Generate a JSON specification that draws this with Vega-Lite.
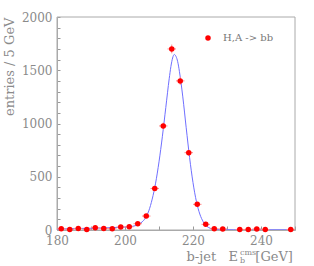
{
  "$schema": "https://vega.github.io/schema/vega-lite/v6.json",
  "width": 238,
  "height": 213,
  "autosize": {"type": "none"},
  "padding": {"left": 57, "top": 17, "right": 19, "bottom": 36},
  "background": "white",
  "resolve": {"axis": {"x": "independent", "y": "independent"}},
  "config": {
    "view": {"stroke": null},
    "axis": {
      "domainColor": "#aaaaaa",
      "tickColor": "#999999",
      "tickWidth": 1,
      "labelColor": "#8a8a8a",
      "titleColor": "#8a8a8a",
      "labelFont": "DejaVu Serif",
      "titleFont": "DejaVu Serif",
      "labelFontSize": 12,
      "titleFontSize": 13,
      "titleFontWeight": "normal",
      "grid": false,
      "ticks": true,
      "labelFlush": false,
      "labelOverlap": false,
      "format": "d"
    }
  },
  "datasets": {
    "pts": [
      {"x": 181.25, "n": 12, "ex": 1.25, "ey": 3.5, "s": "H,A -> bb"},
      {"x": 183.75, "n": 5, "ex": 1.25, "ey": 2.2, "s": "H,A -> bb"},
      {"x": 186.25, "n": 15, "ex": 1.25, "ey": 3.9, "s": "H,A -> bb"},
      {"x": 188.75, "n": 5, "ex": 1.25, "ey": 2.2, "s": "H,A -> bb"},
      {"x": 191.25, "n": 22, "ex": 1.25, "ey": 4.7, "s": "H,A -> bb"},
      {"x": 193.75, "n": 15, "ex": 1.25, "ey": 3.9, "s": "H,A -> bb"},
      {"x": 196.25, "n": 12, "ex": 1.25, "ey": 3.5, "s": "H,A -> bb"},
      {"x": 198.75, "n": 28, "ex": 1.25, "ey": 5.3, "s": "H,A -> bb"},
      {"x": 201.25, "n": 30, "ex": 1.25, "ey": 5.5, "s": "H,A -> bb"},
      {"x": 203.75, "n": 59, "ex": 1.25, "ey": 7.7, "s": "H,A -> bb"},
      {"x": 206.25, "n": 131, "ex": 1.25, "ey": 11.4, "s": "H,A -> bb"},
      {"x": 208.75, "n": 390, "ex": 1.25, "ey": 19.7, "s": "H,A -> bb"},
      {"x": 211.25, "n": 977, "ex": 1.25, "ey": 31.3, "s": "H,A -> bb"},
      {"x": 213.75, "n": 1700, "ex": 1.25, "ey": 41.2, "s": "H,A -> bb"},
      {"x": 216.25, "n": 1400, "ex": 1.25, "ey": 37.4, "s": "H,A -> bb"},
      {"x": 218.75, "n": 726, "ex": 1.25, "ey": 26.9, "s": "H,A -> bb"},
      {"x": 221.25, "n": 241, "ex": 1.25, "ey": 15.5, "s": "H,A -> bb"},
      {"x": 223.75, "n": 53, "ex": 1.25, "ey": 7.3, "s": "H,A -> bb"},
      {"x": 226.25, "n": 12, "ex": 1.25, "ey": 3.5, "s": "H,A -> bb"},
      {"x": 228.75, "n": 10, "ex": 1.25, "ey": 3.2, "s": "H,A -> bb"},
      {"x": 233.75, "n": 5, "ex": 1.25, "ey": 2.2, "s": "H,A -> bb"},
      {"x": 236.25, "n": 5, "ex": 1.25, "ey": 2.2, "s": "H,A -> bb"},
      {"x": 238.75, "n": 10, "ex": 1.25, "ey": 3.2, "s": "H,A -> bb"},
      {"x": 241.25, "n": 5, "ex": 1.25, "ey": 2.2, "s": "H,A -> bb"},
      {"x": 248.75, "n": 5, "ex": 1.25, "ey": 2.2, "s": "H,A -> bb"}
    ],
    "fit": [
      {"x": 180, "c": 10}, {"x": 184, "c": 12}, {"x": 188, "c": 15}, {"x": 192, "c": 18},
      {"x": 196, "c": 22}, {"x": 200, "c": 28}, {"x": 202, "c": 33}, {"x": 203, "c": 40},
      {"x": 204, "c": 53}, {"x": 205, "c": 75}, {"x": 206, "c": 112}, {"x": 207, "c": 180},
      {"x": 208, "c": 290}, {"x": 209, "c": 440}, {"x": 210, "c": 640}, {"x": 211, "c": 880},
      {"x": 212, "c": 1150}, {"x": 213, "c": 1420}, {"x": 213.5, "c": 1535}, {"x": 214, "c": 1615},
      {"x": 214.5, "c": 1648}, {"x": 215, "c": 1630}, {"x": 215.5, "c": 1580}, {"x": 216, "c": 1490},
      {"x": 217, "c": 1250}, {"x": 218, "c": 960}, {"x": 219, "c": 680}, {"x": 220, "c": 445},
      {"x": 221, "c": 268}, {"x": 222, "c": 150}, {"x": 223, "c": 78}, {"x": 224, "c": 37},
      {"x": 225, "c": 17}, {"x": 226, "c": 8}, {"x": 227, "c": 4}, {"x": 228, "c": 3},
      {"x": 232, "c": 2}, {"x": 250, "c": 2}
    ]
  },
  "layer": [
    {
      "data": {"name": "pts"},
      "mark": {"type": "point", "filled": true, "size": 30, "opacity": 0},
      "encoding": {
        "x": {
          "field": "x", "type": "quantitative",
          "scale": {"domain": [180, 250], "nice": false, "zero": false},
          "axis": {
            "orient": "bottom", "title": null,
            "values": [180, 190, 200, 210, 220, 230, 240, 250],
            "labelExpr": "datum.value % 20 === 0 ? datum.label : ''",
            "tickSize": -4,
            "labelPadding": 9
          }
        },
        "y": {
          "field": "n", "type": "quantitative",
          "scale": {"domain": [0, 2000], "nice": false},
          "axis": {
            "orient": "left", "title": "entries / 5 GeV", "titleAnchor": "end", "titlePadding": 5,
            "values": [0,100,200,300,400,500,600,700,800,900,1000,1100,1200,1300,1400,1500,1600,1700,1800,1900,2000],
            "labelExpr": "datum.value % 500 === 0 ? datum.label : ''",
            "tickSize": -3,
            "labelPadding": 8
          }
        }
      }
    },
    {
      "data": {"values": [{}]},
      "mark": {"type": "rect", "fill": null, "fillOpacity": 0, "stroke": "#aaaaaa", "strokeWidth": 1},
      "encoding": {
        "x": {"datum": 180, "axis": null},
        "x2": {"datum": 250},
        "y": {"datum": 0, "axis": null},
        "y2": {"datum": 2000}
      }
    },
    {
      "data": {"name": "fit"},
      "mark": {"type": "line", "color": "#6f6fff", "strokeWidth": 1, "interpolate": "monotone", "clip": true},
      "encoding": {
        "x": {"field": "x", "type": "quantitative", "axis": null},
        "y": {"field": "c", "type": "quantitative", "axis": null}
      }
    },
    {
      "data": {"name": "pts"},
      "mark": {"type": "errorbar", "color": "#ff8a8a", "thickness": 1},
      "encoding": {
        "x": {"field": "x", "type": "quantitative", "axis": null},
        "xError": {"field": "ex"},
        "y": {"field": "n", "type": "quantitative", "axis": null}
      }
    },
    {
      "data": {"name": "pts"},
      "mark": {"type": "errorbar", "color": "#ff8a8a", "thickness": 1},
      "encoding": {
        "y": {"field": "n", "type": "quantitative", "axis": null},
        "yError": {"field": "ey"},
        "x": {"field": "x", "type": "quantitative", "axis": null}
      }
    },
    {
      "data": {"name": "pts"},
      "mark": {"type": "point", "filled": true, "size": 30, "opacity": 1},
      "encoding": {
        "x": {"field": "x", "type": "quantitative", "axis": null},
        "y": {"field": "n", "type": "quantitative", "axis": null},
        "color": {
          "field": "s", "type": "nominal",
          "scale": {"domain": ["H,A -> bb"], "range": ["#ff0000"]},
          "legend": {
            "orient": "none", "legendX": 146, "legendY": 16, "title": null, "padding": 0,
            "labelFont": "DejaVu Serif", "labelFontSize": 10, "labelColor": "#777777",
            "symbolType": "circle", "symbolSize": 30, "symbolStrokeWidth": 0, "labelOffset": 10
          }
        }
      }
    },
    {
      "data": {"values": [{}]},
      "mark": {"type": "text", "align": "right", "baseline": "alphabetic", "font": "DejaVu Serif", "fontSize": 13, "color": "#8a8a8a", "dy": 31},
      "encoding": {"x": {"datum": 233.24, "axis": null}, "y": {"datum": 0, "axis": null}, "text": {"value": "b-jet\u00a0\u00a0\u00a0E"}}
    },
    {
      "data": {"values": [{}]},
      "mark": {"type": "text", "align": "left", "baseline": "alphabetic", "font": "DejaVu Serif", "fontSize": 8, "color": "#8a8a8a", "dy": 25},
      "encoding": {"x": {"datum": 233.82, "axis": null}, "y": {"datum": 0, "axis": null}, "text": {"value": "cms"}}
    },
    {
      "data": {"values": [{}]},
      "mark": {"type": "text", "align": "left", "baseline": "alphabetic", "font": "DejaVu Serif", "fontSize": 8, "color": "#8a8a8a", "dy": 33},
      "encoding": {"x": {"datum": 233.82, "axis": null}, "y": {"datum": 0, "axis": null}, "text": {"value": "b"}}
    },
    {
      "data": {"values": [{}]},
      "mark": {"type": "text", "align": "right", "baseline": "alphabetic", "font": "DejaVu Serif", "fontSize": 13, "color": "#8a8a8a", "dy": 31},
      "encoding": {"x": {"datum": 249.4, "axis": null}, "y": {"datum": 0, "axis": null}, "text": {"value": "[GeV]"}}
    }
  ]
}
